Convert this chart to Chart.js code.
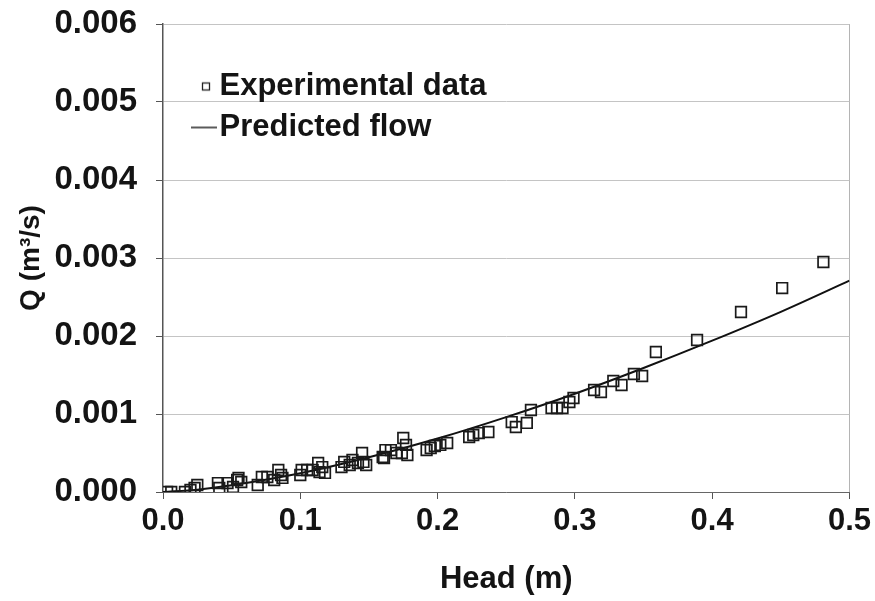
<!DOCTYPE html>
<html>
<head>
<meta charset="utf-8">
<script src="https://cdn.jsdelivr.net/npm/chart.js@4/dist/chart.umd.min.js"></script>
<style>
  html, body { margin: 0; padding: 0; background: #ffffff; }
  #wrap { width: 875px; height: 601px; }
</style>
</head>
<body>
<div id="wrap"><canvas id="c" width="875" height="601"></canvas></div>
<script>
// ---- data ----
const seriesNames = ["Experimental data", "Predicted flow"];

const expHead = [0.003, 0.006, 0.016, 0.020, 0.023, 0.025, 0.040, 0.041, 0.047, 0.051,
  0.054, 0.055, 0.057, 0.069, 0.072, 0.076, 0.081, 0.084, 0.086, 0.087,
  0.100, 0.101, 0.105, 0.109, 0.113, 0.114, 0.116, 0.118, 0.130, 0.132,
  0.136, 0.138, 0.142, 0.145, 0.146, 0.148, 0.160, 0.161, 0.162, 0.166,
  0.170, 0.174, 0.175, 0.177, 0.178, 0.192, 0.195, 0.198, 0.202, 0.207,
  0.223, 0.226, 0.230, 0.237, 0.254, 0.257, 0.265, 0.268, 0.283, 0.287,
  0.291, 0.296, 0.299, 0.314, 0.319, 0.328, 0.334, 0.343, 0.349, 0.359,
  0.389, 0.421, 0.451, 0.481];
const expFlow = [0.000000, 0.000000, 0.000000, 0.000026, 0.000051, 0.000090, 0.000115, 0.000051, 0.000115, 0.000064,
  0.000154, 0.000180, 0.000128, 0.000090, 0.000192, 0.000192, 0.000154, 0.000282, 0.000218, 0.000180,
  0.000218, 0.000282, 0.000282, 0.000282, 0.000372, 0.000256, 0.000320, 0.000244, 0.000320, 0.000385,
  0.000346, 0.000410, 0.000372, 0.000500, 0.000385, 0.000346, 0.000449, 0.000436, 0.000538, 0.000538,
  0.000500, 0.000500, 0.000692, 0.000603, 0.000474, 0.000538, 0.000564, 0.000590, 0.000603, 0.000628,
  0.000705, 0.000731, 0.000756, 0.000769, 0.000897, 0.000833, 0.000885, 0.001051, 0.001077, 0.001077,
  0.001077, 0.001154, 0.001205, 0.001308, 0.001282, 0.001423, 0.001372, 0.001513, 0.001487, 0.001795,
  0.001949, 0.002308, 0.002615, 0.002949];

const predHead = [0, 0.025, 0.05, 0.1, 0.15, 0.2, 0.25, 0.3, 0.35, 0.4, 0.45, 0.5];
const predFlow = [0, 0.00003, 0.000086, 0.00024, 0.000445, 0.000685, 0.00096, 0.00126, 0.00159, 0.00194, 0.00231, 0.00271];

const xTicks = [0.0, 0.1, 0.2, 0.3, 0.4, 0.5];
const yTicks = [0.000, 0.001, 0.002, 0.003, 0.004, 0.005, 0.006];
const xTitle = "Head (m)";
const yTitle = "Q (m\u00B3/s)";

// ---- styling ----
const FONT = "'Liberation Sans', Arial, Helvetica, sans-serif";
const INK = "#141414";

function legendMarker(kind) {
  const c = document.createElement('canvas');
  c.width = 60; c.height = 14;
  const g = c.getContext('2d');
  g.strokeStyle = '#222';
  if (kind === 'square') {
    g.lineWidth = 1.3;
    g.strokeRect(40.5, 3.5, 7, 7);
  } else {
    g.lineWidth = 1.6;
    g.strokeStyle = '#333';
    g.beginPath(); g.moveTo(29, 7); g.lineTo(55, 7); g.stroke();
  }
  return c;
}
const legendMarks = [legendMarker('square'), legendMarker('line')];

const legendShift = {
  id: 'legendShift',
  afterLayout(chart) {
    const lg = chart.legend;
    if (lg) { lg.left += 7; lg.top += 25; }
  }
};

const toXY = (xs, ys) => xs.map((x, i) => ({ x: x, y: ys[i] }));

new Chart(document.getElementById('c'), {
  type: 'scatter',
  data: {
    datasets: [
      {
        label: seriesNames[0],
        data: toXY(expHead, expFlow),
        pointStyle: 'rect',
        pointRadius: 7.5,
        pointHoverRadius: 7.5,
        backgroundColor: 'rgba(0,0,0,0)',
        borderColor: '#1a1a1a',
        pointBorderWidth: 1.7,
        showLine: false
      },
      {
        label: seriesNames[1],
        type: 'line',
        data: toXY(predHead, predFlow),
        borderColor: '#111',
        borderWidth: 2,
        pointRadius: 0,
        fill: false,
        cubicInterpolationMode: 'monotone'
      }
    ]
  },
  options: {
    responsive: false,
    devicePixelRatio: 1,
    animation: false,
    layout: { padding: { left: 0, top: 0, right: 25, bottom: 0 } },
    plugins: {
      tooltip: { enabled: false },
      legend: {
        position: 'chartArea',
        align: 'start',
        title: { display: true, text: ' ', padding: 0, font: { family: FONT, size: 30 } },
        labels: {
          usePointStyle: true,
          boxWidth: 24,
          padding: 10,
          color: INK,
          font: { family: FONT, size: 31, weight: 'bold' },
          generateLabels(chart) {
            const items = Chart.defaults.plugins.legend.labels.generateLabels(chart);
            items.forEach((it, i) => { it.pointStyle = legendMarks[i]; });
            return items;
          }
        }
      }
    },
    scales: {
      x: {
        type: 'linear',
        min: xTicks[0],
        max: xTicks[xTicks.length - 1],
        afterBuildTicks(scale) { scale.ticks = xTicks.map(v => ({ value: v })); },
        afterFit(scale) { scale.height = 109; },
        ticks: {
          color: INK,
          padding: 4,
          font: { family: FONT, size: 31, weight: 'bold' },
          callback: v => Number(v).toFixed(1),
          maxRotation: 0
        },
        grid: {
          color: ctx => (ctx.tick && Math.abs(ctx.tick.value - 0.5) < 1e-9) ? '#b4b4b4' : 'rgba(0,0,0,0)',
          tickColor: '#555',
          tickLength: 7,
          lineWidth: 1
        },
        border: { display: true, color: '#666', width: 1 },
        title: {
          display: true,
          text: xTitle,
          color: INK,
          font: { family: FONT, size: 31, weight: 'bold' },
          padding: { top: 0, bottom: 3 }
        }
      },
      y: {
        type: 'linear',
        min: yTicks[0],
        max: yTicks[yTicks.length - 1],
        afterBuildTicks(scale) { scale.ticks = yTicks.map(v => ({ value: v })); },
        afterFit(scale) { scale.width = 163; scale.paddingTop = 24; scale.paddingBottom = 20; },
        ticks: {
          color: INK,
          padding: 19,
          font: { family: FONT, size: 33, weight: 'bold' },
          callback: v => Number(v).toFixed(3)
        },
        grid: {
          color: '#c4c4c4',
          tickColor: '#555',
          tickLength: 7,
          lineWidth: 1
        },
        border: { display: true, color: '#555', width: 1.5 },
        title: {
          display: true,
          text: yTitle,
          color: INK,
          font: { family: FONT, size: 28, weight: 'bold' },
          padding: { top: 14, bottom: 0 }
        }
      }
    }
  },
  plugins: [legendShift]
});
</script>
</body>
</html>
